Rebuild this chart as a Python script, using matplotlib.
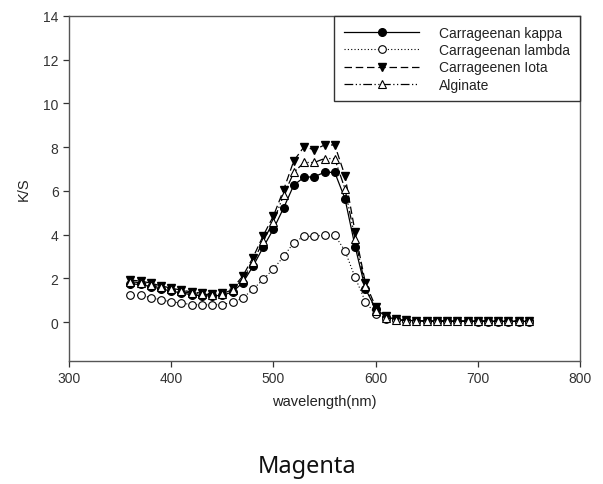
import matplotlib
matplotlib.use("Agg")
import matplotlib.pyplot as plt
import numpy as np

plt.rcParams['font.family'] = ['Liberation Sans', 'DejaVu Sans']

wavelength = list(range(360, 760, 10))

kappa = [1.75, 1.72, 1.62, 1.52, 1.42, 1.33, 1.25, 1.20, 1.20, 1.22,
         1.38, 1.80, 2.55, 3.42, 4.25, 5.22, 6.27, 6.62, 6.65, 6.85,
         6.85, 5.65, 3.45, 1.52, 0.62, 0.25, 0.12, 0.08, 0.06, 0.05,
         0.05, 0.04, 0.04, 0.04, 0.03, 0.03, 0.03, 0.03, 0.03, 0.03]
lambda_ = [1.22, 1.22, 1.12, 1.02, 0.93, 0.87, 0.80, 0.79, 0.79, 0.80,
           0.90, 1.10, 1.50, 1.95, 2.43, 3.00, 3.64, 3.92, 3.92, 3.98,
           3.98, 3.26, 2.04, 0.93, 0.37, 0.14, 0.08, 0.05, 0.04, 0.04,
           0.03, 0.03, 0.03, 0.03, 0.02, 0.02, 0.02, 0.02, 0.02, 0.02]
iota = [1.92, 1.88, 1.78, 1.66, 1.55, 1.46, 1.38, 1.32, 1.30, 1.35,
        1.55, 2.10, 2.95, 3.95, 4.85, 6.05, 7.38, 8.02, 7.88, 8.10,
        8.10, 6.70, 4.10, 1.80, 0.70, 0.28, 0.14, 0.08, 0.06, 0.05,
        0.05, 0.05, 0.04, 0.04, 0.04, 0.04, 0.04, 0.04, 0.04, 0.04]
alginate = [1.85, 1.80, 1.70, 1.60, 1.50, 1.40, 1.32, 1.27, 1.26, 1.30,
            1.48, 1.98, 2.75, 3.70, 4.60, 5.80, 6.85, 7.30, 7.30, 7.48,
            7.48, 6.10, 3.80, 1.65, 0.52, 0.20, 0.10, 0.07, 0.06, 0.05,
            0.05, 0.05, 0.05, 0.05, 0.05, 0.05, 0.05, 0.05, 0.05, 0.05]

labels = ["Carrageenan kappa", "Carrageenan lambda", "Carrageenen Iota", "Alginate"]
xticks = [300, 400, 500, 600, 700, 800]
yticks = [0, 2, 4, 6, 8, 10, 12, 14]

fig = plt.figure(figsize=(6.03, 4.85), dpi=100)
ax = fig.add_axes([69/603, 1 - 362/485, (580 - 69)/603, (362 - 17)/485])

ms = 5.5
lw = 0.9
ax.plot(wavelength, kappa, color='black', lw=lw, ls='-', marker='o', ms=ms,
        mfc='black', mec='black', label=labels[0])
ax.plot(wavelength, lambda_, color='black', lw=0.8, ls=(0, (1, 2)), marker='o', ms=ms,
        mfc='white', mec='black', mew=0.8, label=labels[1])
ax.plot(wavelength, iota, color='black', lw=lw, ls=(0, (6, 3)), marker='v', ms=ms + 0.5,
        mfc='black', mec='black', label=labels[2])
ax.plot(wavelength, alginate, color='black', lw=lw, ls=(0, (7, 2, 1, 2, 1, 2)), marker='^', ms=ms + 0.5,
        mfc='white', mec='black', mew=0.8, label=labels[3])

ax.set_xlim(300, 800)
ax.set_ylim(-1.78, 14)
ax.set_xticks(xticks)
ax.set_yticks(yticks)
ax.tick_params(direction='out', length=4, width=0.9, labelsize=10, colors='#333333',
               top=False, right=False)
for s in ax.spines.values():
    s.set_color('#555555')
    s.set_linewidth(1.0)

ax.set_xlabel("wavelength(nm)", fontsize=10.5, color='#222222', labelpad=6)
ax.set_ylabel("K/S", fontsize=10.5, color='#222222', labelpad=9)

leg = ax.legend(loc='upper right', bbox_to_anchor=(1, 1), borderaxespad=0,
                fancybox=False, frameon=True, edgecolor='#333333', framealpha=1,
                fontsize=10, handlelength=5.4, handletextpad=1.45,
                labelspacing=0.24, borderpad=0.7)
leg.get_frame().set_linewidth(1.0)
for t in leg.get_texts():
    t.set_color('#222222')

fig.text(307/603, 1 - 467/485, "Magenta", fontsize=17, family=['Noto Sans', 'DejaVu Sans'],
         ha='center', va='center', color='#111111')

fig.savefig("out.png", dpi=100)
